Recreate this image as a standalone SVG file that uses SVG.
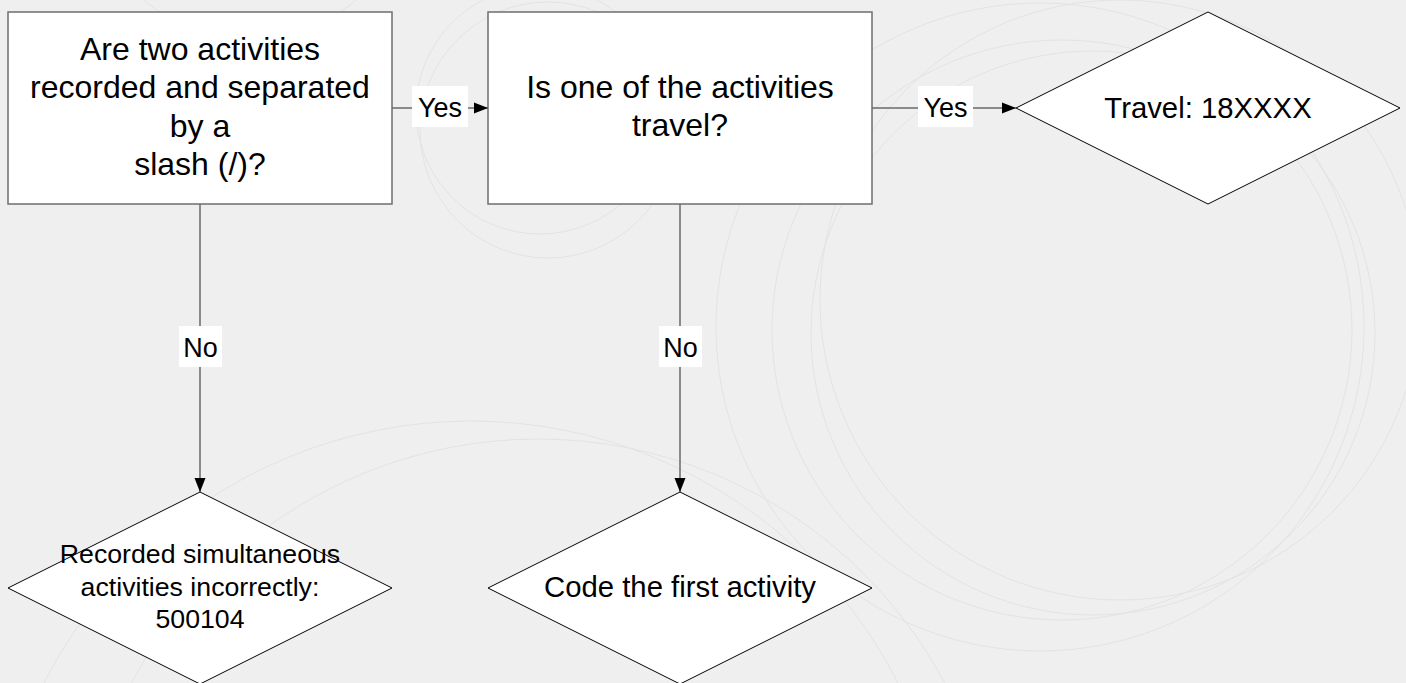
<svg xmlns="http://www.w3.org/2000/svg" width="1406" height="683" viewBox="0 0 1406 683">
<style>
.bg{fill:none;stroke:#e3e3e3;stroke-width:1}
.box{fill:#fff;stroke:#6e6e6e;stroke-width:1.5}
.dia{fill:#fff;stroke:#000;stroke-width:1}
.t{font-family:"Liberation Sans",Arial,sans-serif;fill:#000;text-anchor:middle}
.t32{font-size:32px}
.t29{font-size:29.3px}
.t27{font-size:26.7px}
.conn{fill:none;stroke:#6a6a6a;stroke-width:1.5}
.lblbg{fill:#fff}
.lbl{font-family:"Liberation Sans",Arial,sans-serif;font-size:27px;fill:#000;text-anchor:middle}
</style>
<defs>
<marker id="arr" markerWidth="14" markerHeight="12" refX="14" refY="6" orient="auto" markerUnits="userSpaceOnUse">
<path d="M0,0.5 L14,6 L0,11.5 Z" fill="#000"/>
</marker>
</defs>
<rect x="0" y="0" width="1406" height="683" fill="#efefef"/>
<g id="background">
<circle class="bg" cx="1093" cy="333" r="282"/>
<circle class="bg" cx="1062" cy="330" r="290"/>
<circle class="bg" cx="1040" cy="327" r="324"/>
<circle class="bg" cx="1120" cy="300" r="300"/>
<circle class="bg" cx="548" cy="130" r="128"/>
<circle class="bg" cx="540" cy="110" r="124"/>
<circle class="bg" cx="471" cy="900" r="479"/>
<circle class="bg" cx="538" cy="900" r="461"/>
<circle class="bg" cx="250" cy="-120" r="160"/>
</g>
<g id="node-q1">
<rect class="box" x="8" y="12" width="384" height="192"/>
<text class="t t32" x="200" y="60">Are two activities</text>
<text class="t t32" x="200" y="98">recorded and separated</text>
<text class="t t32" x="200" y="137">by a</text>
<text class="t t32" x="200" y="175">slash (/)?</text>
</g>
<g id="node-q2">
<rect class="box" x="488" y="12" width="384" height="192"/>
<text class="t t32" x="680" y="98">Is one of the activities</text>
<text class="t t32" x="680" y="136">travel?</text>
</g>
<g id="node-travel">
<polygon class="dia" points="1208,12 1400,108 1208,204 1016,108"/>
<text class="t t29" x="1208" y="118">Travel: 18XXXX</text>
</g>
<g id="node-incorrect">
<polygon class="dia" points="200,492 392,588 200,684 8,588"/>
<text class="t t27" x="200" y="563">Recorded simultaneous</text>
<text class="t t27" x="200" y="596">activities incorrectly:</text>
<text class="t t27" x="200" y="628">500104</text>
</g>
<g id="node-first">
<polygon class="dia" points="680,492 872,588 680,684 488,588"/>
<text class="t t29" x="680" y="597">Code the first activity</text>
</g>
<g id="connectors">
<line class="conn" x1="392" y1="108" x2="488" y2="108" marker-end="url(#arr)"/>
<line class="conn" x1="872" y1="108" x2="1016" y2="108" marker-end="url(#arr)"/>
<line class="conn" x1="200" y1="204" x2="200" y2="492" marker-end="url(#arr)"/>
<line class="conn" x1="680" y1="204" x2="680" y2="492" marker-end="url(#arr)"/>
<rect class="lblbg" x="412" y="86" width="56" height="41"/>
<text class="lbl" x="440" y="117">Yes</text>
<rect class="lblbg" x="918" y="86" width="55" height="41"/>
<text class="lbl" x="945.5" y="117">Yes</text>
<rect class="lblbg" x="179" y="326" width="43" height="41"/>
<text class="lbl" x="200.5" y="357">No</text>
<rect class="lblbg" x="659" y="326" width="43" height="41"/>
<text class="lbl" x="680.5" y="357">No</text>
</g>
</svg>
